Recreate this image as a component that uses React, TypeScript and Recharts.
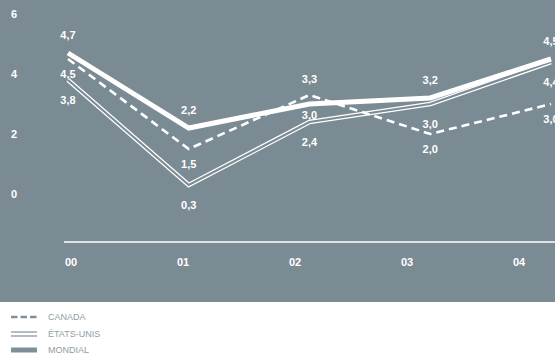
import React from 'react';
import { LineChart, Line, XAxis, YAxis } from 'recharts';

// values (growth in %, by year)
const years = ['00', '01', '02', '03', '04'];
const canada = [4.5, 1.5, 3.3, 2.0, 3.0];
const etatsUnis = [3.8, 0.3, 2.4, 3.0, 4.4];
const mondial = [4.7, 2.2, 3.0, 3.2, 4.5];
const yTicks = [0, 2, 4, 6];

// which side of the point each value label sits on
const canadaSide = ['below', 'below', 'above', 'below', 'below'];
const usSide = ['below', 'below', 'below', 'below', 'below'];
const mondialSide = ['above', 'above', 'below', 'above', 'above'];

const BG = '#7b8b94';
const FONT = '"Liberation Sans", Arial, sans-serif';

const data = years.map((year, i) => ({
  year,
  canada: canada[i],
  us: etatsUnis[i],
  mondial: mondial[i],
}));

const fmt = (v: number) => v.toFixed(1).replace('.', ',');

const makeLabel = (sides: string[], up: number, down: number) => (props: any) => {
  const { x, y, value, index } = props;
  const dy = sides[index] === 'above' ? -up : down;
  return (
    <text
      x={x}
      y={y + dy}
      textAnchor="middle"
      dominantBaseline="central"
      fill="#fff"
      fontSize={11}
      fontWeight="bold"
      fontFamily={FONT}
    >
      {fmt(value)}
    </text>
  );
};

const YTick = (props: any) => {
  const { y, payload } = props;
  return (
    <text x={11} y={y} dominantBaseline="central" fill="#fff" fontSize={11} fontWeight="bold" fontFamily={FONT}>
      {payload.value}
    </text>
  );
};

const XTick = (props: any) => {
  const { x, y, payload } = props;
  return (
    <text x={x} y={y + 11} textAnchor="middle" dominantBaseline="central" fill="#fff" fontSize={11} fontWeight="bold" fontFamily={FONT}>
      {payload.value}
    </text>
  );
};

const LegendIcon = ({ kind }: { kind: string }) => (
  <svg width={26} height={10} style={{ display: 'block' }}>
    {kind === 'dash' && <line x1={0} y1={5} x2={26} y2={5} stroke="#7f8f98" strokeWidth={2.5} strokeDasharray="6.5 3" />}
    {kind === 'double' && (
      <g stroke="#7f8f98" strokeWidth={1.2}>
        <line x1={0} y1={3} x2={26} y2={3} />
        <line x1={0} y1={7} x2={26} y2={7} />
      </g>
    )}
    {kind === 'solid' && <rect x={0} y={2.5} width={26} height={5} fill="#7f8f98" />}
  </svg>
);

const legendItems = [
  { kind: 'dash', label: 'CANADA' },
  { kind: 'double', label: 'ÉTATS-UNIS' },
  { kind: 'solid', label: 'MONDIAL' },
];

export default function App() {
  return (
    <div style={{ width: 555, height: 357, background: '#fff', overflow: 'hidden', position: 'relative' }}>
      <style>{'body{margin:0}'}</style>
      <LineChart
        width={555}
        height={302}
        data={data}
        margin={{ top: 14, right: 0, left: 0, bottom: 29 }}
        style={{ background: BG }}
      >
        <YAxis
          domain={[-1.6, 6]}
          ticks={yTicks}
          type="number"
          width={64}
          axisLine={false}
          tickLine={false}
          tick={<YTick />}
          allowDataOverflow
        />
        <XAxis
          xAxisId="a"
          dataKey="year"
          padding={{ left: 4, right: 4 }}
          axisLine={{ stroke: '#fff', strokeWidth: 1.5 }}
          tickLine={false}
          tick={false}
          height={1}
        />
        <XAxis
          xAxisId="b"
          dataKey="year"
          padding={{ left: 7, right: 36 }}
          axisLine={false}
          tickLine={false}
          tick={<XTick />}
          height={30}
        />
        <Line
          xAxisId="a"
          dataKey="us"
          type="linear"
          stroke="#fff"
          strokeWidth={4.6}
          dot={false}
          isAnimationActive={false}
        />
        <Line
          xAxisId="a"
          dataKey="us"
          type="linear"
          stroke={BG}
          strokeWidth={2.2}
          dot={false}
          isAnimationActive={false}
          label={makeLabel(usSide, 17, 20)}
        />
        <Line
          xAxisId="a"
          dataKey="canada"
          type="linear"
          stroke="#fff"
          strokeWidth={2.6}
          strokeDasharray="8 5"
          dot={false}
          isAnimationActive={false}
          label={makeLabel(canadaSide, 16, 15)}
        />
        <Line
          xAxisId="a"
          dataKey="mondial"
          type="linear"
          stroke="#fff"
          strokeWidth={5}
          dot={false}
          isAnimationActive={false}
          label={makeLabel(mondialSide, 18, 11)}
        />
      </LineChart>
      <div style={{ marginTop: 7 }}>
        {legendItems.map((it) => (
          <div key={it.label} style={{ height: 16.5, display: 'flex', alignItems: 'center' }}>
            <div style={{ marginLeft: 11, width: 37 }}>
              <LegendIcon kind={it.kind} />
            </div>
            <span style={{ fontFamily: FONT, fontSize: 9, color: '#8f9da5' }}>{it.label}</span>
          </div>
        ))}
      </div>
    </div>
  );
}
